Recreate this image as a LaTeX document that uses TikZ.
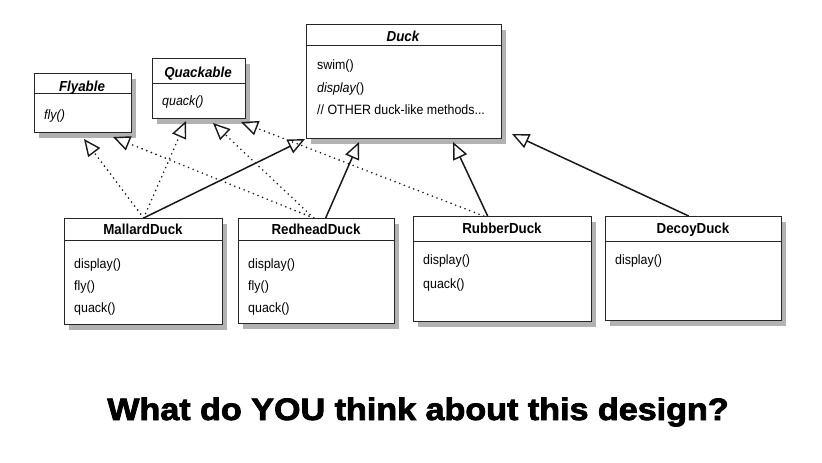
\documentclass[tikz,border=0pt]{standalone}
\usepackage{fontspec}
\setmainfont{Liberation Sans}[FakeStretch=0.92]
\newfontfamily\heavyfont{Liberation Sans Bold}[FakeBold=2.5]
\usetikzlibrary{arrows.meta,shadows}
\begin{document}
\begin{tikzpicture}[x=1pt,y=-1pt,
  cls/.style={draw=black!85, line width=1.3pt, fill=white, anchor=north west, inner sep=0pt,
    drop shadow={shadow xshift=4pt, shadow yshift=-5pt, opacity=0.3, fill=black}},
  hdr/.style={font=\fontsize{14.5}{15}\selectfont\bfseries, anchor=base, inner sep=0pt},
  ihdr/.style={font=\fontsize{14.5}{15}\selectfont\bfseries\itshape, anchor=base, inner sep=0pt},
  meth/.style={font=\fontsize{13.5}{15}\selectfont, anchor=base west, inner sep=0pt},
  divl/.style={line width=0.9pt, draw=black!85},
  inh/.style={-{Triangle[open, length=17pt, width=15pt, line width=1.4pt]}, line width=1.5pt, draw=black!90},
  impl/.style={inh, line width=1.8pt, line cap=round, dash pattern=on 0pt off 5pt}
]
\useasboundingbox (0,0) rectangle (822,463);

% interfaces
\node[cls, minimum width=97pt, minimum height=59pt] (flyable) at (34,73) {};
\draw[divl] ([yshift=-20pt]flyable.north west) -- ([yshift=-20pt]flyable.north east);
\node[ihdr] (flyableT) at (82,91) {Flyable};
\node[meth] (flyableM1) at (44,119) {\itshape fly()};

\node[cls, minimum width=93pt, minimum height=60pt] (quack) at (152,58) {};
\draw[divl] ([yshift=-25pt]quack.north west) -- ([yshift=-25pt]quack.north east);
\node[ihdr] (quackT) at (198,77) {Quackable};
\node[meth] (quackM1) at (162,105) {\itshape quack()};

% superclass
\node[cls, minimum width=195pt, minimum height=114pt] (duck) at (306,24) {};
\draw[divl] ([yshift=-21pt]duck.north west) -- ([yshift=-21pt]duck.north east);
\node[ihdr] (duckT) at (403,41) {Duck};
\node[meth] (duckM1) at (317,69) {swim()};
\node[meth] (duckM2) at (317,92) {\itshape display\upshape()};
\node[meth] (duckM3) at (317,114) {// OTHER duck-like methods...};

% subclasses
\node[cls, minimum width=158pt, minimum height=106pt] (mallard) at (64,218) {};
\draw[divl] ([yshift=-22pt]mallard.north west) -- ([yshift=-22pt]mallard.north east);
\node[hdr] (mallardT) at (143,234) {MallardDuck};
\node[meth] (mallardM1) at (74,268) {display()};
\node[meth] (mallardM2) at (74,290) {fly()};
\node[meth] (mallardM3) at (74,312) {quack()};

\node[cls, minimum width=156pt, minimum height=105pt] (redhead) at (238,218) {};
\draw[divl] ([yshift=-22pt]redhead.north west) -- ([yshift=-22pt]redhead.north east);
\node[hdr] (redheadT) at (316,234) {RedheadDuck};
\node[meth] (redheadM1) at (248,268) {display()};
\node[meth] (redheadM2) at (248,290) {fly()};
\node[meth] (redheadM3) at (248,312) {quack()};

\node[cls, minimum width=178pt, minimum height=105pt] (rubber) at (413,216) {};
\draw[divl] ([yshift=-25pt]rubber.north west) -- ([yshift=-25pt]rubber.north east);
\node[hdr] (rubberT) at (502,233) {RubberDuck};
\node[meth] (rubberM1) at (423,264) {display()};
\node[meth] (rubberM2) at (423,288) {quack()};

\node[cls, minimum width=176pt, minimum height=104pt] (decoy) at (605,216) {};
\draw[divl] ([yshift=-25pt]decoy.north west) -- ([yshift=-25pt]decoy.north east);
\node[hdr] (decoyT) at (693,233) {DecoyDuck};
\node[meth] (decoyM1) at (615,264) {display()};

% arrow tips
\coordinate (tMF) at (84,139);
\coordinate (tRF) at (113,137);
\coordinate (tMQ) at (186,121);
\coordinate (tRQ) at (213,123);
\coordinate (tUQ) at (241,122);
\coordinate (tMD) at (305,139);
\coordinate (tRD) at (359,142);
\coordinate (tUD) at (453,142);
\coordinate (tDD) at (512,134);

% implementation (dotted)
\draw[impl] (mallard.north) -- (tMF);
\draw[impl] (mallard.north) -- (tMQ);
\draw[impl] ([xshift=-3pt]redhead.north) -- (tRF);
\draw[impl] ([xshift=-3pt]redhead.north) -- (tRQ);
\draw[impl] ([xshift=-19pt]rubber.north) -- (tUQ);

% inheritance (solid)
\draw[inh] (mallard.north) -- (tMD);
\draw[inh] ([xshift=9pt]redhead.north) -- (tRD);
\draw[inh] ([xshift=-15pt]rubber.north) -- (tUD);
\draw[inh] ([xshift=-5pt]decoy.north) -- (tDD);

\node[anchor=base, inner sep=0pt] (title) at (418,420)
  {\scalebox{1.1}[1]{\heavyfont\fontsize{31}{34}\selectfont What do YOU think about this design?}};
\end{tikzpicture}
\end{document}
